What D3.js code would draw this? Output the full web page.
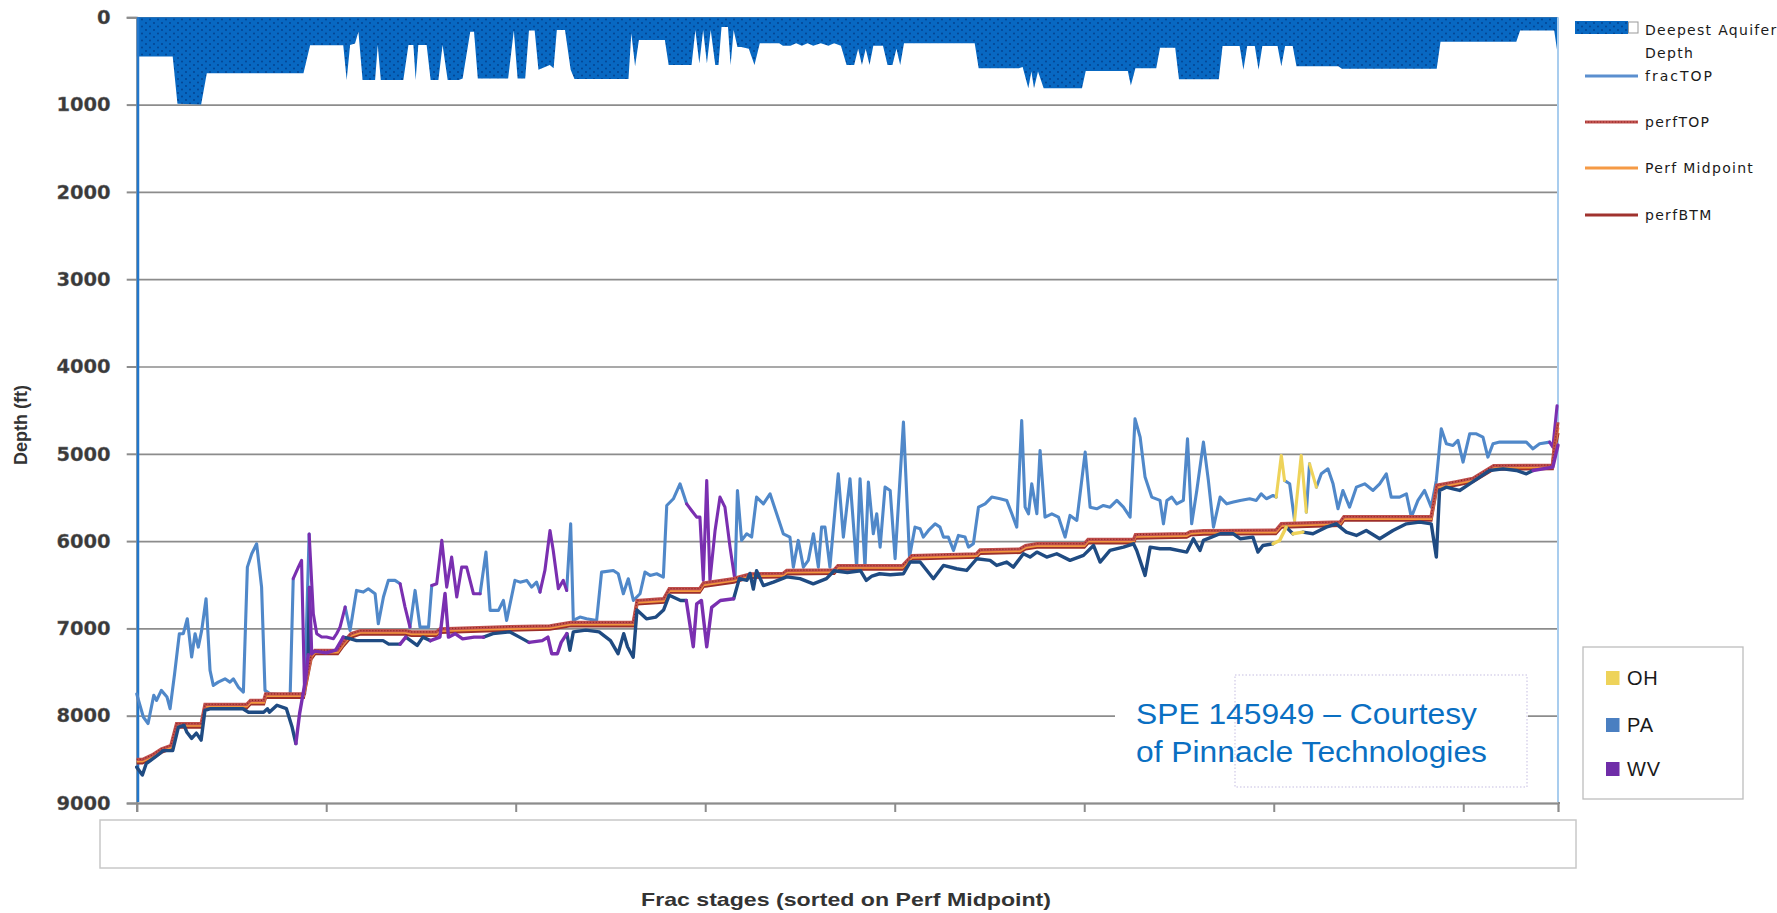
<!DOCTYPE html>
<html><head><meta charset="utf-8">
<script src="https://cdnjs.cloudflare.com/ajax/libs/d3/7.8.5/d3.min.js"></script>
<style>html,body{margin:0;padding:0;background:#fff;overflow:hidden}svg{display:block}</style>
</head><body><svg id="c" width="1777" height="913"></svg>
<script>
// ---------------- DATA ----------------
const yTicks = [0,1000,2000,3000,4000,5000,6000,7000,8000,9000];
const xTicks = [0,100,200,300,400,500,600,700];
const stageCount = 750;
const seriesNames = ["Deepest Aquifer", "fracTOP", "perfTOP", "Perf Midpoint", "perfBTM"];
const stateNames = ["OH", "PA", "WV"];

// Deepest aquifer depth [stage, depth ft]
const aquifer = [[0,450],[19,450],[21.5,990],[34,1000],[37,640],[88,640],[91.5,320],[109,320],[110.8,718],[112.6,317],[115.2,300],[117,165],[119.2,718],[125.8,718],[127.2,317],[128.8,718],[140.7,718],[143.4,317],[146,317],[147.2,718],[148.6,317],[153,317],[155.1,718],[159.2,718],[161.4,317],[164.1,718],[170,718],[172,700],[176,165],[178,165],[180,700],[196,700],[199,150],[201,700],[205,700],[207,150],[210,150],[212,600],[218,546],[220,584],[221.7,145],[226,145],[229,600],[231,707],[259.5,707],[261,183],[263,560],[265,260],[278.7,260],[280.7,546],[292.8,546],[294.8,145],[296.9,530],[298.9,145],[300.9,530],[302.9,145],[305.3,546],[307,546],[308.6,110],[312,110],[313.4,546],[315,145],[317,340],[319,340],[323,360],[326,546],[328.8,298],[339,298],[341,325],[345,325],[348,298],[351,325],[354,298],[357,325],[361,298],[365,325],[368,298],[371.6,325],[374.6,546],[378.6,546],[380.7,360],[382.7,546],[384.7,360],[386.7,546],[388.7,325],[393.8,325],[396.2,546],[398.8,546],[400.9,360],[402.9,546],[404.9,298],[442.2,298],[444.3,584],[465.5,584],[467.5,570],[470.5,813],[472.1,620],[473.5,813],[475.6,620],[478.6,813],[498.8,813],[500.8,616],[523,616],[524.6,780],[527,584],[538,584],[540,350],[548,350],[550,710],[571,710],[573,330],[582,330],[584,600],[586,330],[590,330],[592,600],[594,330],[602,330],[604,560],[606,330],[610,330],[612,560],[634,560],[636,590],[686,590],[688,280],[728,280],[730,150],[748,150],[750,450]];

// fracTOP [stage, depth ft]
const fracTop = [[0,7750],[3.5,8015],[6,8090],[9,7767],[10.5,7825],[13,7710],[16,7786],[17.6,7920],[20,7519],[22.5,7061],[24.6,7061],[26.7,6889],[29,7328],[30.8,7061],[32.5,7214],[34.3,7023],[36.6,6660],[38.7,7481],[40.4,7653],[43,7615],[46.6,7577],[49.2,7615],[51,7577],[53.6,7672],[56.3,7729],[58.4,6298],[60.7,6145],[63.3,6031],[65.9,6527],[67.7,7710],[70.3,7748],[79,7767],[81,7748],[82.6,6431],[85.3,6298],[87,6221],[88.6,7748],[91,5920],[93.2,6832],[95,7061],[97.6,7099],[100.2,7099],[103.8,7118],[105.5,7061],[107.3,6985],[110,6756],[112.6,7023],[116,6565],[119.6,6584],[122.2,6546],[125.8,6603],[127.5,6947],[130.2,6641],[132.8,6450],[136.3,6450],[139,6489],[141.6,6756],[144.2,6985],[146.9,6565],[149.5,6985],[154,6985],[155.7,6508],[158.3,6489],[161,5992],[163.6,6527],[166.2,6183],[168.9,6641],[171.5,6298],[174.1,6298],[177.7,6603],[181.2,6603],[184.3,6126],[186.5,6794],[189.1,6794],[190.9,6794],[193.5,6680],[195.2,6909],[199.6,6450],[202.3,6470],[205.8,6450],[208.4,6527],[211,6470],[212.8,6584],[215.4,6336],[218.1,5878],[219.8,6107],[222.5,6546],[225.1,6450],[226.9,6565],[229,5802],[230.4,6909],[233.9,6870],[237.4,6889],[242.7,6909],[245.3,6355],[251.5,6336],[254.1,6374],[256.8,6603],[259.4,6431],[262.1,6680],[265.6,6603],[268.2,6355],[270.9,6393],[274.4,6374],[277.9,6412],[279.7,5592],[283.2,5515],[286.7,5344],[290.2,5573],[292.8,5649],[295.5,5725],[297.2,5725],[299,6450],[300.8,5305],[302.5,6450],[305.2,5878],[307.8,5496],[310.4,5611],[313.1,6069],[315.7,6450],[317,5420],[319.2,5992],[321.9,5916],[324.5,5954],[327.1,5496],[330.7,5573],[334.2,5458],[337.7,5687],[341.2,5916],[344.7,5954],[346.5,6298],[349.1,5992],[351.8,6298],[354.4,6221],[357.1,5916],[359.7,6298],[361.4,5840],[363.2,5840],[365.8,6298],[370.2,5229],[372.9,5954],[376.4,5286],[379.9,6298],[381.7,5286],[384.3,6298],[386.1,5324],[388.7,5916],[390.5,5687],[392.3,6069],[394.9,5382],[397.6,5420],[400.2,6202],[404.6,4637],[407.8,6183],[410.7,5840],[413.4,5859],[415.1,5954],[417.8,5878],[421.3,5802],[423.9,5840],[425.7,5954],[428.3,5954],[431,6107],[433.6,5935],[437.1,5954],[438.9,6069],[441.5,6031],[444.2,5611],[447.7,5573],[451.2,5496],[455.6,5515],[459.1,5534],[461.8,5687],[464.4,5840],[467,4618],[468.8,5611],[470.6,5687],[472.3,5344],[475,5687],[476.7,4962],[479.3,5725],[482.9,5687],[486.4,5725],[489.9,5954],[492.5,5706],[496.1,5763],[500.5,4981],[503.1,5611],[506.6,5630],[510.1,5592],[513.6,5611],[517.2,5534],[520.7,5611],[524.2,5725],[526.8,4599],[529.5,4809],[532.1,5267],[535.6,5496],[540,5534],[541.8,5802],[543.6,5534],[546.2,5496],[548.8,5573],[552.3,5534],[554.5,4828],[556.7,5802],[559.4,5420],[562.9,4866],[565.5,5305],[568.2,5840],[571.7,5496],[575.2,5573],[578.7,5553],[582.3,5534],[587.3,5515],[590.8,5534],[593.4,5458],[596.1,5515],[599.6,5477],[601.3,5496],[604,5019],[605.7,5305],[608.4,5344],[611,5763],[614.5,5019],[617.2,5668],[618.9,5115],[622.5,5382],[625.1,5229],[628.6,5172],[631.3,5344],[633.9,5630],[636.5,5420],[640,5611],[643.6,5382],[648,5344],[652.4,5420],[655.9,5344],[659.4,5229],[662,5496],[666.4,5496],[670,5458],[672.6,5725],[676.1,5534],[679.6,5420],[683.1,5611],[685.8,5305],[688.4,4714],[691.1,4885],[694.6,4904],[697.2,4847],[699.9,5095],[703.4,4771],[706.9,4771],[710.4,4809],[713,5038],[715.7,4885],[719.2,4866],[726.2,4866],[733.3,4866],[736.8,4943],[740.3,4885],[745.6,4866],[747.3,4923],[749.5,4450]];

// fracBTM [stage, depth ft]
const fracBtm = [[0,8590],[3,8680],[5,8550],[10,8470],[14,8400],[19,8400],[22,8130],[25,8110],[26.5,8190],[29,8260],[31.5,8200],[34,8280],[36,7940],[39,7920],[56,7920],[59,7960],[63,7960],[67,7960],[69,7920],[70,7960],[74,7880],[79,7920],[82,8130],[84,8320],[86,7970],[89,7600],[90.5,7300],[91.2,6530],[92.3,7290],[94,7260],[100,7280],[105,7250],[109,7100],[113,7120],[116,7140],[124,7140],[130,7140],[133,7180],[139,7180],[142,7100],[148,7195],[151,7100],[155,7140],[160,7100],[162.7,6600],[164.5,7100],[168,7060],[172,7120],[178,7100],[183,7100],[188,7060],[197,7040],[202,7100],[207,7160],[214,7140],[217,7100],[219,7290],[222,7290],[224,7160],[227,7060],[228.6,7250],[230.4,7040],[237,7020],[244,7040],[250,7140],[254,7290],[257,7060],[259,7210],[262,7330],[264,6790],[269,6890],[274,6870],[278,6790],[281,6620],[287,6680],[290,6680],[293.7,7210],[295.5,6720],[298,6680],[300.8,7210],[303.4,6760],[308,6680],[315,6660],[318,6430],[322,6450],[323.6,6370],[325.4,6550],[327.1,6340],[330.7,6510],[336,6470],[343,6410],[350,6430],[357,6490],[364,6430],[368,6340],[375,6360],[382,6340],[385,6450],[388,6400],[392,6374],[397.6,6386],[404.6,6374],[408.1,6240],[413.4,6240],[420.4,6431],[425.7,6279],[432.7,6317],[438,6336],[443.3,6202],[450.3,6221],[453.8,6279],[459.1,6240],[462.6,6298],[467.9,6145],[471.4,6183],[475,6126],[480.2,6183],[485.5,6145],[492.5,6221],[499.6,6164],[504.9,6050],[508.4,6240],[513.6,6107],[520.7,6069],[526,6031],[527.7,6107],[532.1,6393],[534.8,6069],[540,6088],[545.3,6088],[554.1,6126],[557.6,5973],[561.1,6107],[562.9,5992],[571.7,5916],[578.7,5916],[582.3,5973],[589,5954],[591.7,6126],[594.3,6050],[599.6,6031],[603.1,5992],[606.6,5840],[610.1,5916],[615.4,5897],[620.7,5916],[627.7,5840],[633,5802],[638.3,5897],[643.6,5935],[648.8,5878],[655.9,5973],[662.9,5878],[670,5802],[677,5783],[683.1,5802],[685.8,6183],[687.5,5420],[691.1,5382],[694.6,5401],[698.1,5420],[703.4,5344],[708.7,5267],[713.9,5191],[721,5172],[728,5191],[733.3,5229],[736.8,5191],[747.3,5153],[750,4900]];

// Perforation intervals (step vertices)
const perfStage = [0,3,8,13,18,21,34,36,58,60,67,68,88,92,94,106,109,113,118,142,145,158,160,197,218,229,262,264,278,281,297,299,315,318,324,341,343,368,370,404,409,443,445,466,469,475,500,502,526,527,554,556,563,601,604,635,637,683,686,696,705,716,747,748,750];
const perfTop = [8500,8500,8450,8380,8340,8090,8090,7870,7870,7825,7825,7750,7750,7310,7250,7250,7160,7060,7025,7025,7040,7040,7005,6980,6970,6930,6930,6680,6660,6545,6545,6480,6430,6410,6375,6370,6335,6330,6280,6280,6165,6145,6100,6090,6050,6030,6030,5980,5980,5925,5915,5890,5880,5875,5800,5780,5720,5720,5360,5320,5280,5135,5130,4920,4640];
const perfMid = [8520,8520,8470,8400,8360,8110,8110,7890,7890,7845,7845,7770,7770,7330,7270,7270,7180,7080,7045,7045,7060,7060,7025,7000,6990,6950,6950,6700,6680,6565,6565,6500,6450,6430,6395,6390,6355,6350,6300,6300,6185,6165,6120,6110,6070,6050,6050,6000,6000,5945,5935,5910,5900,5895,5820,5800,5740,5740,5380,5340,5300,5155,5150,4950,4700];
const perfBtm = [8540,8540,8490,8420,8380,8130,8130,7910,7910,7865,7865,7790,7790,7350,7290,7290,7200,7100,7065,7065,7080,7080,7045,7020,7010,6970,6970,6720,6700,6585,6585,6520,6470,6450,6415,6410,6375,6370,6320,6320,6205,6185,6140,6130,6090,6070,6070,6020,6020,5965,5955,5930,5920,5915,5840,5820,5760,5760,5400,5360,5320,5175,5170,4980,4760];

// State of each stage range (others are PA)
const wvRanges = [[85,90.6],[92,111],[140,146],[157,184],[214,227],[292,316],[746,750]];
const ohRanges = [[603,607],[614,618],[622,625]];

// ---------------- DRAW ----------------
const svg = d3.select('#c');
const L = 136.7, R = 1558, T = 17.3, B = 803;
const x = d3.scaleLinear().domain([0, stageCount]).range([L, R]);
const y = d3.scaleLinear().domain([0, 9000]).range([T, B]);

const defs = svg.append('defs');
const pat = defs.append('pattern').attr('id','dots').attr('patternUnits','userSpaceOnUse').attr('width',8).attr('height',7);
pat.append('rect').attr('width',8).attr('height',7).attr('fill','#0868C2');
pat.append('circle').attr('cx',2).attr('cy',2).attr('r',0.9).attr('fill','#02408C');
pat.append('circle').attr('cx',6).attr('cy',5.5).attr('r',0.9).attr('fill','#02408C');

// gridlines
svg.append('g').attr('transform',`translate(${L},0)`)
  .call(d3.axisLeft(y).tickValues(yTicks).tickSize(-(R-L)).tickFormat(''))
  .call(g=>{g.select('.domain').remove(); g.selectAll('line').attr('stroke','#8c8c8c').attr('stroke-width',1.7);});

// watermark backing box
svg.append('rect').attr('x',1115).attr('y',672).attr('width',413).attr('height',118).attr('fill','#fff');
svg.append('rect').attr('x',1235).attr('y',675).attr('width',292).attr('height',112).attr('fill','none')
  .attr('stroke','#e2def0').attr('stroke-width',2).attr('stroke-dasharray','1.5 2');

// aquifer area
const area = d3.area().x(d=>x(d[0])).y0(y(0)).y1(d=>y(d[1]));
svg.append('path').datum(aquifer).attr('d',area).attr('fill','url(#dots)');

// axes
const yAx = svg.append('g').attr('transform',`translate(${L},0)`)
  .call(d3.axisLeft(y).tickValues(yTicks).tickSize(10).tickPadding(16).tickFormat(d3.format('d')));
yAx.select('.domain').attr('stroke','#8c8c8c').attr('stroke-width',2);
yAx.selectAll('.tick line').attr('stroke','#8c8c8c').attr('stroke-width',2);
yAx.selectAll('text').attr('font-family','DejaVu Sans').attr('font-weight','bold').attr('font-size',19.5)
  .attr('fill','#3a3a3a').attr('stroke','#777').attr('stroke-width',0.3);

const xAx = svg.append('g').attr('transform',`translate(0,${B})`)
  .call(d3.axisBottom(x).tickValues(xTicks).tickSize(9).tickFormat(''));
xAx.select('.domain').attr('stroke','#8c8c8c').attr('stroke-width',2.2);
xAx.selectAll('.tick line').attr('stroke','#8c8c8c').attr('stroke-width',2);
svg.append('line').attr('x1',R).attr('x2',R+2).attr('y1',B).attr('y2',B).attr('stroke','#8c8c8c').attr('stroke-width',2.2);

// blue edges
svg.append('line').attr('x1',L+1.3).attr('x2',L+1.3).attr('y1',T).attr('y2',B-1).attr('stroke','#2277cc').attr('stroke-width',2.5);
svg.append('line').attr('x1',R).attr('x2',R).attr('y1',T).attr('y2',B-1).attr('stroke','#a9cdee').attr('stroke-width',2);

// lines
const line = d3.line().x(d=>x(d[0])).y(d=>y(d[1]));
function stateOf(s){
  for (const r of wvRanges) if (s>=r[0] && s<=r[1]) return 'WV';
  for (const r of ohRanges) if (s>=r[0] && s<=r[1]) return 'OH';
  return 'PA';
}
function drawColored(data, colors, width){
  const runs=[]; let cur=null;
  for (let i=1;i<data.length;i++){
    const st = stateOf(data[i][0]);
    if (!cur || cur.st!==st){ cur={st, pts:[data[i-1]]}; runs.push(cur); }
    cur.pts.push(data[i]);
  }
  runs.sort((a,b)=>(a.st==='PA'?0:1)-(b.st==='PA'?0:1));
  runs.forEach(r=> svg.append('path').attr('d',line(r.pts)).attr('fill','none')
    .attr('stroke',colors[r.st]).attr('stroke-width',width).attr('stroke-linejoin','round').attr('stroke-linecap','round'));
}
drawColored(fracTop, {PA:'#5088c9', WV:'#7a2fb0', OH:'#eed35a'}, 3.1);

const pTop = perfStage.map((s,i)=>[s,perfTop[i]]);
const pMid = perfStage.map((s,i)=>[s,perfMid[i]]);
const pBtm = perfStage.map((s,i)=>[s,perfBtm[i]]);
svg.append('path').attr('d',line(pBtm)).attr('fill','none').attr('stroke','#9c2f2b').attr('stroke-width',3.2);
svg.append('path').attr('d',line(pMid)).attr('fill','none').attr('stroke','#f3993f').attr('stroke-width',3);
svg.append('path').attr('d',line(pTop)).attr('fill','none').attr('stroke','#c0504d').attr('stroke-width',3.2);
svg.append('path').attr('d',line(pTop)).attr('fill','none').attr('stroke','#8e2424').attr('stroke-width',1.2).attr('stroke-dasharray','1 2');

drawColored(fracBtm, {PA:'#1f4b82', WV:'#7a2fb0', OH:'#eed35a'}, 3.4);

// axis titles
svg.append('text').attr('transform','translate(21,425) rotate(-90)').attr('text-anchor','middle').attr('dominant-baseline','central')
  .attr('font-family','Liberation Sans').attr('font-weight','bold').attr('font-size',18).attr('fill','#333').text('Depth (ft)');
svg.append('rect').attr('x',100).attr('y',820).attr('width',1476).attr('height',48).attr('fill','none').attr('stroke','#c8c8c8').attr('stroke-width',1.5);
svg.append('text').attr('x',846).attr('y',906).attr('text-anchor','middle').attr('font-family','Liberation Sans').attr('font-weight','bold')
  .attr('font-size',18.5).attr('fill','#333').attr('textLength',410).attr('lengthAdjust','spacingAndGlyphs').text('Frac stages (sorted on Perf Midpoint)');

// watermark
const wm = svg.append('g').attr('font-family','Liberation Sans').attr('font-size',29).attr('fill','#0a6fc2');
wm.append('text').attr('x',1136).attr('y',724).attr('textLength',341).attr('lengthAdjust','spacingAndGlyphs').text('SPE 145949 – Courtesy');
wm.append('text').attr('x',1136).attr('y',762).attr('textLength',351).attr('lengthAdjust','spacingAndGlyphs').text('of Pinnacle Technologies');

// series legend (top right)
const lg = svg.append('g').attr('font-family','DejaVu Sans').attr('font-size',14).attr('fill','#1a1a1a').attr('letter-spacing',1.3);
lg.append('rect').attr('x',1575).attr('y',21).attr('width',53).attr('height',13).attr('fill','url(#dots)');
lg.append('rect').attr('x',1628.5).attr('y',22).attr('width',9.5).attr('height',11).attr('fill','#fff').attr('stroke','#999').attr('stroke-width',1);
lg.append('text').attr('x',1645).attr('y',35).text(seriesNames[0]);
lg.append('text').attr('x',1645).attr('y',58).text('Depth');
const legItems = [
  {name:seriesNames[1], y:76, color:'#5b8fcf'},
  {name:seriesNames[2], y:122, color:'#c0504d', dotted:true},
  {name:seriesNames[3], y:168, color:'#f59a45'},
  {name:seriesNames[4], y:215, color:'#a0322e'}
];
legItems.forEach(it=>{
  lg.append('line').attr('x1',1585).attr('x2',1638).attr('y1',it.y).attr('y2',it.y).attr('stroke',it.color).attr('stroke-width',3.2);
  if (it.dotted) lg.append('line').attr('x1',1585).attr('x2',1638).attr('y1',it.y).attr('y2',it.y).attr('stroke','#8e2424').attr('stroke-width',1.2).attr('stroke-dasharray','1 2');
  lg.append('text').attr('x',1645).attr('y',it.y+5).attr('letter-spacing', it.name==='fracTOP'?2:1.3).text(it.name);
});

// state legend (bottom right)
svg.append('rect').attr('x',1583).attr('y',647).attr('width',160).attr('height',152).attr('fill','#fff').attr('stroke','#bdbdbd').attr('stroke-width',1.3);
const stColors = {OH:'#eed35a', PA:'#4a7fc1', WV:'#6f2da8'};
const stY = [678, 725, 769];
stateNames.forEach((s,i)=>{
  svg.append('rect').attr('x',1606).attr('y',stY[i]-7).attr('width',13.5).attr('height',14).attr('fill',stColors[s]);
  svg.append('text').attr('x',1627).attr('y',stY[i]+7).attr('font-family','Liberation Sans').attr('font-size',20)
    .attr('letter-spacing',0.8).attr('fill','#1a1a1a').text(s);
});
</script></body></html>
